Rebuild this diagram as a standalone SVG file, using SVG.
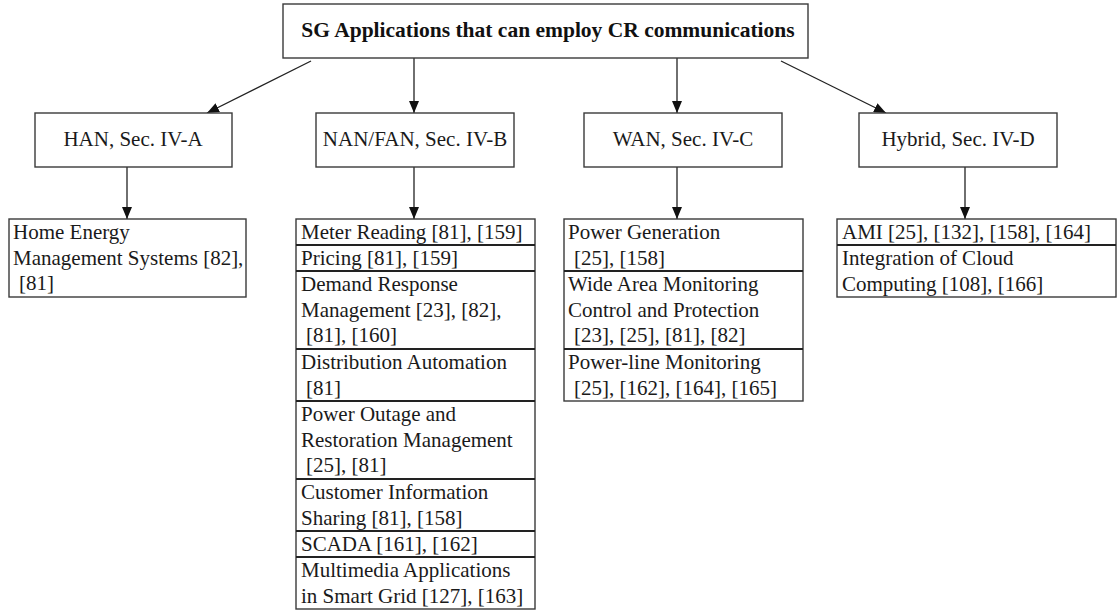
<svg xmlns="http://www.w3.org/2000/svg" width="1119" height="613" viewBox="0 0 1119 613">
<style>
.box{fill:#fff;stroke:#3a3a3a;stroke-width:1.4}
.sep{stroke:#222;stroke-width:2}
.t{font-family:"Liberation Serif","Times New Roman",serif;font-size:21px;fill:#1a1a1a}
.title{font-family:"Liberation Serif","Times New Roman",serif;font-size:21.5px;font-weight:bold;fill:#111}
.c{text-anchor:middle}
.edge{stroke:#222;stroke-width:1.3;fill:none;marker-end:url(#ah)}
</style>
<defs>
<marker id="ah" markerUnits="userSpaceOnUse" markerWidth="12" markerHeight="10" viewBox="0 0 12 10" refX="12" refY="5" orient="auto">
<path d="M0,0 L12,5 L0,10 Z" fill="#111"/>
</marker>
</defs>
<rect width="1119" height="613" fill="#fff"/>

<g id="connectors">
<line class="edge" x1="311" y1="61" x2="207" y2="113"/>
<line class="edge" x1="414" y1="58" x2="414" y2="113"/>
<line class="edge" x1="677" y1="58" x2="677" y2="113"/>
<line class="edge" x1="781" y1="61" x2="886" y2="113"/>
<line class="edge" x1="127" y1="167" x2="127" y2="219"/>
<line class="edge" x1="414" y1="167" x2="414" y2="219"/>
<line class="edge" x1="677" y1="167" x2="677" y2="219"/>
<line class="edge" x1="965" y1="167" x2="965" y2="219"/>
</g>

<g id="root">
<rect class="box" x="283" y="4" width="525" height="54"/>
<text class="title c" x="548" y="37">SG Applications that can employ CR communications</text>
</g>

<g id="han">
<rect class="box" x="35" y="113" width="197" height="54"/>
<text class="t c" x="133" y="146">HAN, Sec. IV-A</text>
</g>
<g id="nan">
<rect class="box" x="316" y="113" width="198" height="54"/>
<text class="t c" x="415" y="146">NAN/FAN, Sec. IV-B</text>
</g>
<g id="wan">
<rect class="box" x="584" y="113" width="198" height="54"/>
<text class="t c" x="683" y="146">WAN, Sec. IV-C</text>
</g>
<g id="hybrid">
<rect class="box" x="859" y="113" width="198" height="54"/>
<text class="t c" x="958" y="146">Hybrid, Sec. IV-D</text>
</g>

<g id="han-apps">
<rect class="box" x="9" y="219" width="237" height="78"/>
<text class="t" x="13" y="239">Home Energy</text>
<text class="t" x="13" y="264.5">Management Systems [82],</text>
<text class="t" x="19" y="290">[81]</text>
</g>

<g id="nan-apps">
<rect class="box" x="296" y="219" width="239" height="390"/>
<line class="sep" x1="296" y1="245" x2="535" y2="245"/>
<line class="sep" x1="296" y1="271" x2="535" y2="271"/>
<line class="sep" x1="296" y1="349" x2="535" y2="349"/>
<line class="sep" x1="296" y1="401" x2="535" y2="401"/>
<line class="sep" x1="296" y1="479" x2="535" y2="479"/>
<line class="sep" x1="296" y1="531" x2="535" y2="531"/>
<line class="sep" x1="296" y1="557" x2="535" y2="557"/>
<text class="t" x="301" y="239">Meter Reading [81], [159]</text>
<text class="t" x="301" y="265">Pricing [81], [159]</text>
<text class="t" x="301" y="291">Demand Response</text>
<text class="t" x="301" y="316.5">Management [23], [82],</text>
<text class="t" x="306" y="342">[81], [160]</text>
<text class="t" x="301" y="369">Distribution Automation</text>
<text class="t" x="306" y="394.5">[81]</text>
<text class="t" x="301" y="421">Power Outage and</text>
<text class="t" x="301" y="446.5">Restoration Management</text>
<text class="t" x="306" y="472">[25], [81]</text>
<text class="t" x="301" y="499">Customer Information</text>
<text class="t" x="301" y="524.5">Sharing [81], [158]</text>
<text class="t" x="301" y="551">SCADA [161], [162]</text>
<text class="t" x="301" y="577">Multimedia Applications</text>
<text class="t" x="301" y="602.5">in Smart Grid [127], [163]</text>
</g>

<g id="wan-apps">
<rect class="box" x="564" y="219" width="239" height="182"/>
<line class="sep" x1="564" y1="271" x2="803" y2="271"/>
<line class="sep" x1="564" y1="349" x2="803" y2="349"/>
<text class="t" x="568" y="239">Power Generation</text>
<text class="t" x="574" y="264.5">[25], [158]</text>
<text class="t" x="568" y="291">Wide Area Monitoring</text>
<text class="t" x="568" y="316.5">Control and Protection</text>
<text class="t" x="574" y="342">[23], [25], [81], [82]</text>
<text class="t" x="568" y="369">Power-line Monitoring</text>
<text class="t" x="574" y="394.5">[25], [162], [164], [165]</text>
</g>

<g id="hybrid-apps">
<rect class="box" x="837" y="219" width="279" height="78"/>
<line class="sep" x1="837" y1="245" x2="1116" y2="245"/>
<text class="t" x="842" y="239">AMI [25], [132], [158], [164]</text>
<text class="t" x="842" y="265">Integration of Cloud</text>
<text class="t" x="842" y="290.5">Computing [108], [166]</text>
</g>
</svg>
